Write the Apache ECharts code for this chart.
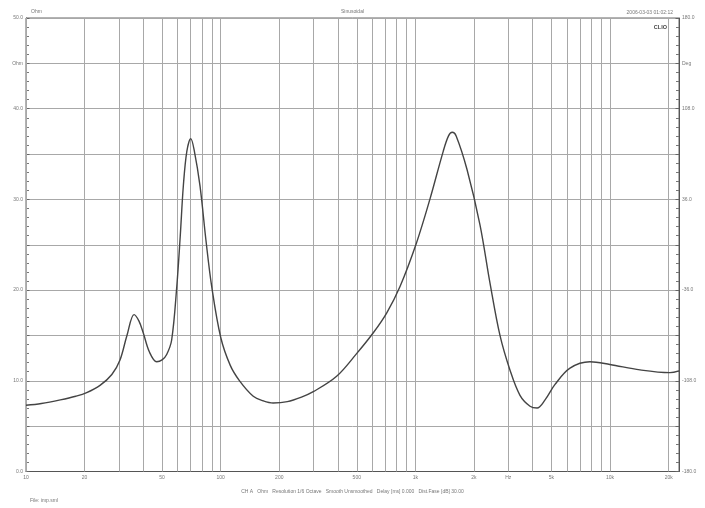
<!DOCTYPE html>
<html><head><meta charset="utf-8">
<script src="https://cdn.jsdelivr.net/npm/echarts@6/dist/echarts.min.js"></script>
<style>html,body{margin:0;padding:0;background:#fff}#c{width:705px;height:508px}</style>
</head><body><div id="c"></div>
<script>
// Frequencies (Hz) and impedance (Ohm)
var freqs = [10,12,15,18,20.5,24,27.6,30.4,33,35.9,38,40,43,46.9,50,52.8,56,59.5,62,64.3,67,70.2,73,78.3,84,89.9,100,112,125,147,165,186,220,260,299,394,499,608,713,834,1013,1187,1390,1480,1546,1620,1842,2147,2416,2720,3060,3446,3880,4217,4635,5215,6226,7885,9980,14250,20310,22600];
var impedance = [7.3,7.5,7.9,8.3,8.7,9.5,10.7,12.3,15.0,17.3,16.6,15.3,13.2,12.1,12.3,12.9,14.5,20.4,26.0,31.5,35.3,36.7,35.5,31.5,25.5,20.4,14.8,11.7,10.0,8.3,7.8,7.55,7.7,8.2,8.8,10.5,13.0,15.3,17.5,20.4,25.2,30.0,35.3,37.0,37.4,37.0,33.3,27.2,20.8,15.0,11.2,8.4,7.2,7.0,7.9,9.6,11.4,12.1,11.8,11.2,10.9,11.1];
var gridFreqs = [10,20,30,40,50,60,70,80,90,100,200,300,400,500,600,700,800,900,1000,2000,3000,4000,5000,6000,7000,8000,9000,10000,20000];
var freqLabels = {10:'10',20:'20',50:'50',100:'100',200:'200',500:'500',1000:'1k',2000:'2k',3000:'Hz',5000:'5k',10000:'10k',20000:'20k'};
var leftLabels = {0:'0.0',10:'10.0',20:'20.0',30:'30.0',40:'40.0',45:'Ohm',50:'50.0'};
var rightLabels = {'-180':'-180.0','-108':'-108.0','-36':'-36.0','36':'36.0','108':'108.0','144':'Deg','180':'180.0'};
var headerLeft = 'Ohm', headerCenter = 'Sinusoidal', headerRight = '2006-03-03 01:02:12';
var footerInfo = 'CH A   Ohm   Resolution 1/6 Octave   Smooth Unsmoothed   Delay [ms] 0.000   Dist.Fase [dB] 30.00';
var fileInfo = 'File: imp.sml';

var FONT = 'Liberation Sans';
var TXT = '#777';
var data = freqs.map(function(f,i){return [f, impedance[i]];});
var chart = echarts.init(document.getElementById('c'), null, {renderer:'canvas'});
chart.setOption({
  animation:false,
  backgroundColor:'#fff',
  textStyle:{fontFamily:FONT},
  title:[
    {text:headerLeft,left:26,top:4,textStyle:{fontSize:5,fontWeight:'normal',color:TXT,fontFamily:FONT}},
    {text:headerCenter,left:'center',top:4,textStyle:{fontSize:5,fontWeight:'normal',color:TXT,fontFamily:FONT}},
    {text:headerRight,right:27,top:5,textStyle:{fontSize:5,fontWeight:'normal',color:TXT,fontFamily:FONT}},
    {text:'CLIO',right:33,top:19,textStyle:{fontSize:5.5,fontWeight:'bold',color:'#444',fontFamily:FONT}},
    {text:footerInfo,left:'center',top:484,textStyle:{fontSize:5,fontWeight:'normal',color:TXT,fontFamily:FONT}},
    {text:fileInfo,left:25,top:493,textStyle:{fontSize:5,fontWeight:'normal',color:TXT,fontFamily:FONT}}
  ],
  grid:{left:26,right:26,top:18,bottom:36.5,show:true,borderColor:'#666',borderWidth:1,backgroundColor:'transparent'},
  xAxis:{type:'log',logBase:10,min:10,max:22600,
    axisLine:{show:true,lineStyle:{color:'#555',width:1}},
    axisTick:{show:false},axisLabel:{show:false},splitLine:{show:false},minorTick:{show:false}},
  yAxis:[
    {type:'value',min:0,max:50,interval:5,position:'left',
      axisLine:{show:true,lineStyle:{color:'#555',width:1}},
      axisTick:{show:true,inside:true,length:3.5,lineStyle:{color:'#666'}},
      minorTick:{show:true,splitNumber:5,length:3,lineStyle:{color:'#777'}},
      axisLabel:{show:true,margin:3,fontSize:5,color:TXT,fontFamily:FONT,formatter:function(v){return leftLabels[v]!==undefined?leftLabels[v]:'';}},
      splitLine:{show:true,lineStyle:{color:'#a8a8a8',width:1}}},
    {type:'value',min:-180,max:180,interval:36,position:'right',
      axisLine:{show:true,lineStyle:{color:'#555',width:1}},
      axisTick:{show:true,inside:true,length:3.5,lineStyle:{color:'#666'}},
      minorTick:{show:true,splitNumber:5,length:3,lineStyle:{color:'#777'}},
      axisLabel:{show:true,margin:3,fontSize:5,color:TXT,fontFamily:FONT,formatter:function(v){var k=String(Math.round(v));return rightLabels[k]!==undefined?rightLabels[k]:'';}},
      splitLine:{show:false}}
  ],
  series:[{
    type:'line',data:data,smooth:0.35,showSymbol:false,symbol:'none',
    lineStyle:{color:'#444',width:1.4},
    z:5,
    markLine:{silent:true,symbol:['none','none'],animation:false,
      lineStyle:{color:'#a8a8a8',width:1,type:'solid'},
      emphasis:{disabled:true},
      data:gridFreqs.map(function(f){
        var lab=freqLabels[f];
        return {xAxis:f,label:{show:lab!==undefined,position:'start',distance:4,formatter:lab||'',fontSize:5,color:TXT,fontFamily:FONT}};
      })
    }
  }]
});
</script></body></html>
